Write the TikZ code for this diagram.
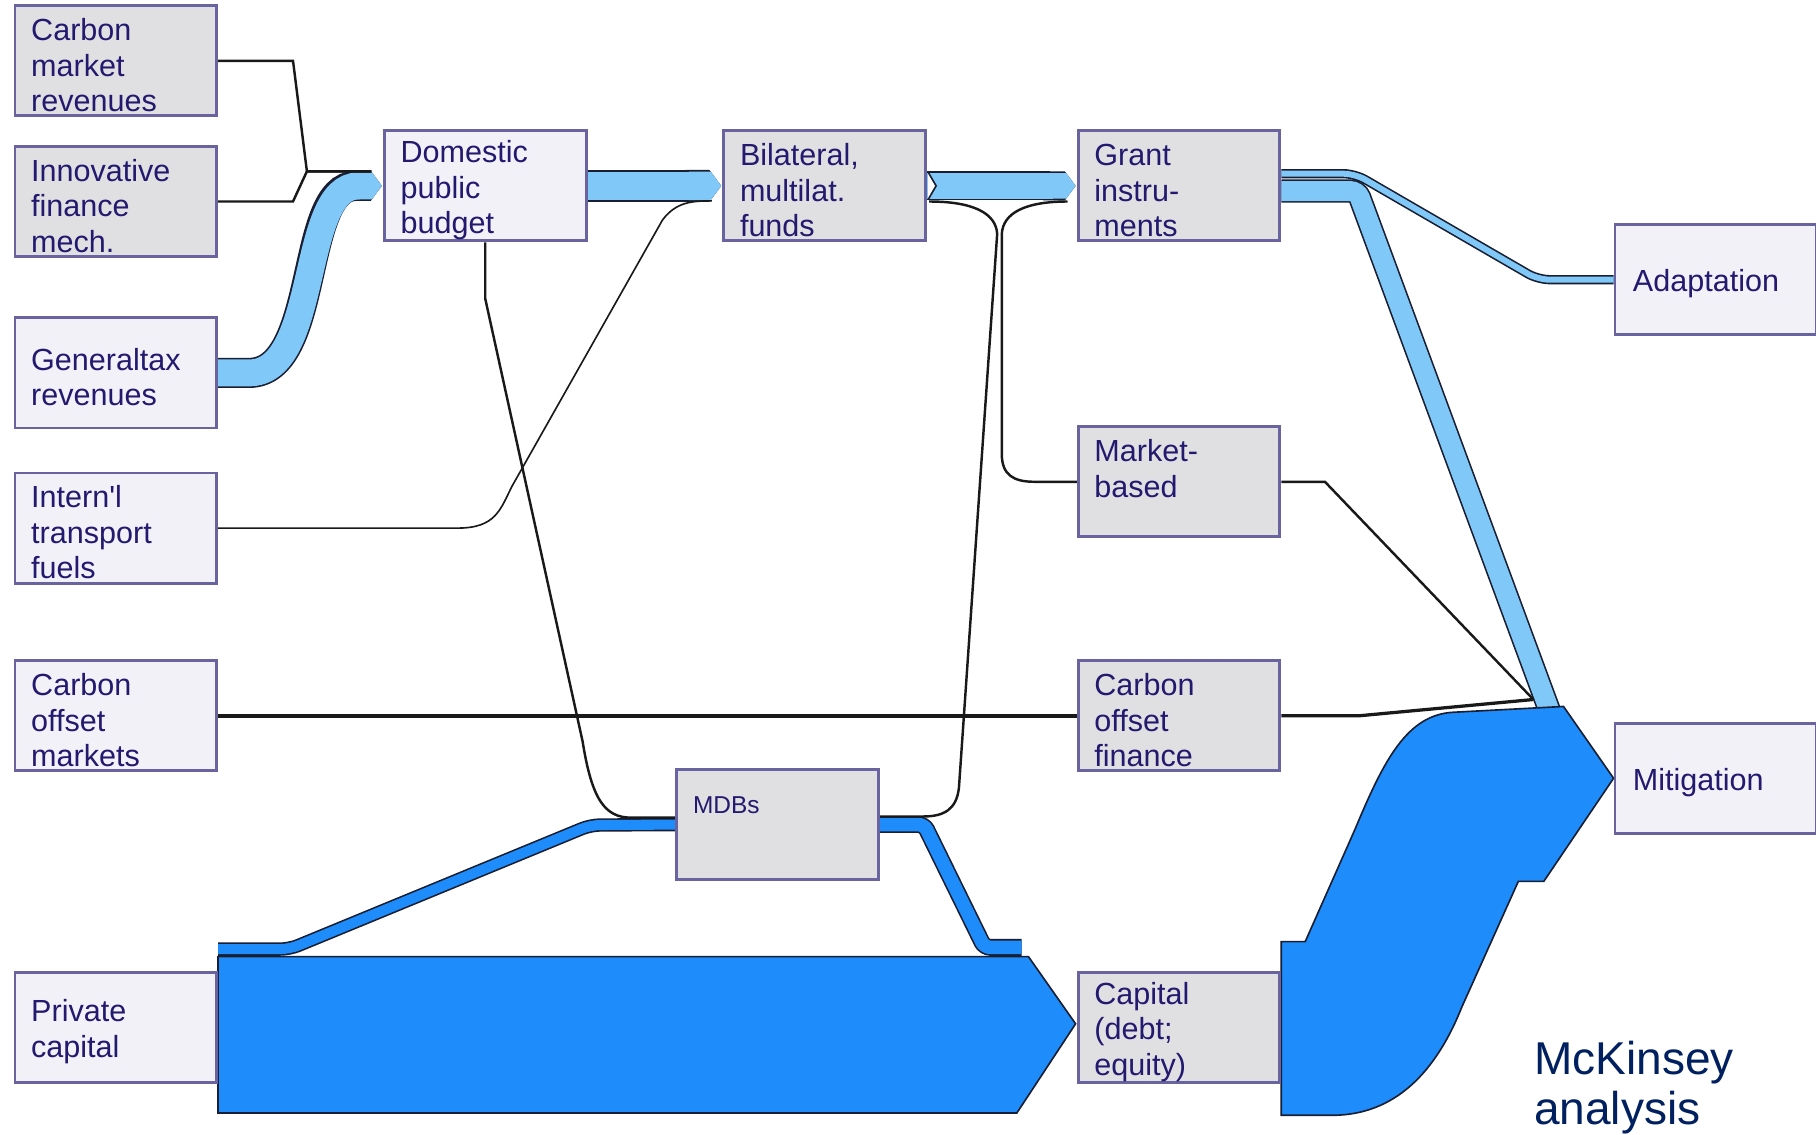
\documentclass[tikz,border=0pt]{standalone}
\usepackage{fontspec}
\setmainfont{Liberation Sans}
\usepackage{tikz}
\usetikzlibrary{arrows.meta, calc, backgrounds}

\definecolor{ink}{RGB}{35,25,110}
\definecolor{boxline}{RGB}{105,100,160}
\definecolor{boxgray}{RGB}{224,224,226}
\definecolor{boxlight}{RGB}{242,241,248}
\definecolor{skyband}{RGB}{128,200,248}
\definecolor{deepband}{RGB}{30,140,250}
\definecolor{edge}{RGB}{25,30,50}
\definecolor{mckblue}{RGB}{0,32,96}

\begin{document}
\begin{tikzpicture}[
            x=0.01cm, y=-0.01cm,
            box/.style={rectangle, draw=boxline, line width=0.7pt, minimum width=1.74cm, minimum height=0.95cm, inner xsep=0.14cm, inner ysep=0pt, text width=1.46cm, align=left, text=ink, font=\fontsize{7.5}{8.7}\selectfont, execute at begin node={\rule{0pt}{7.6pt}}},
            src/.style={box, fill=boxlight},
            hub/.style={box, fill=boxgray},
            wire/.style={draw=black!90, line width=0.6pt},
            band/.style 2 args={draw=#1, line width=#2-0.8pt, preaction={draw=edge, line width=#2}},
            capend/.style={-{Triangle Cap[length=0pt .37]}},
            bulk/.style={fill=deepband, draw=edge, line width=0.4pt}
        ]
            \useasboundingbox (0,0) rectangle (1568,980);

            % --- sources ---
            \node[hub] (cmr) at (100,52.5) {Carbon\\market\\revenues};
            \node[hub] (ifm) at (100,174) {Innovative\\finance\\mech.};
            \node[src] (gtr) at (100,322) {Generaltax\\revenues};
            \node[src] (itf) at (100,456) {Intern\textquotesingle l\\transport\\fuels};
            \node[src] (com) at (100,618) {Carbon\\offset\\markets};
            \node[src] (pc) at (100,887) {Private\\capital};

            % --- channels ---
            \node[src] (dpb) at (419,160.5) {Domestic\\public\\budget};
            \node[hub] (bmf) at (712,160.5) {Bilateral,\\multilat.\\funds};
            \node[hub, font=\fontsize{6}{8.7}\selectfont] (mdb) at (671.5,712) {MDBs\\[4.2pt]\mbox{}};

            % --- instruments ---
            \node[hub] (gi) at (1018,160.5) {Grant\\instru-\\ments};
            \node[hub] (mb) at (1018,416) {Market-\\based\\\mbox{}};
            \node[hub] (cof) at (1018,618) {Carbon\\offset\\finance};
            \node[hub] (cap) at (1018,887) {Capital\\(debt;\\equity)};

            % --- uses ---
            \node[src, text width=1.43cm] (ada) at (1481.5,241.5) {Adaptation};
            \node[src, text width=1.43cm] (mit) at (1481.5,672) {Mitigation};

            \coordinate (merge) at (1324,604);

            \begin{scope}[on background layer]
            \fill[white] (0,0) rectangle (1568,980);

            % light bands
            \draw[band={skyband}{0.26cm}, capend] (gtr.east) -- (215,322) .. controls (277,322) and (258,160.5) .. ($(dpb.west)+(-1,0)$);
            \draw[band={skyband}{0.275cm}, capend] (dpb.east) -- ($(bmf.west)+(-1,0)$);
            \draw[band={skyband}{0.25cm}, capend] (bmf.east) -- ($(gi.west)+(-1,0)$);
            \fill[white] ($(bmf.east)+(1,-12)$) -- ($(bmf.east)+(8,0)$) -- ($(bmf.east)+(1,12)$) -- cycle;
            \draw[edge, line width=0.4pt] ($(bmf.east)+(1,-12)$) -- ($(bmf.east)+(8,0)$) -- ($(bmf.east)+(1,12)$);
            \draw[band={skyband}{0.08cm}, rounded corners=0.1cm] ($(gi.east)+(0,-10.5)$) -- (1170,150) -- (1328,241.5) -- (ada.west);
            \draw[band={skyband}{0.2cm}, rounded corners=0.06cm] ($(gi.east)+(0,4.5)$) -- (1172,165) -- (1338,614);

            % dark bands
            \draw[band={deepband}{0.115cm}, rounded corners=0.08cm] ($(pc.east)+(0,-67.5)$) -- (250,819.5) -- (510,712.4) -- (mdb.west);
            \draw[band={deepband}{0.145cm}, rounded corners=0.05cm] (mdb.east) -- (798,712) -- (850,818) -- (882,818);
            \draw[bulk] ($(pc.east)+(0,-61)$) -- (888,826) -- ($(cap.west)+(-1,-3)$) -- (878,961) -- ($(pc.east)+(0,74)$) -- cycle;
            \draw[bulk] ($(cap.east)+(0,-74)$) -- (1127,813) -- (1170,716) .. controls (1195,656) and (1215,617) .. (1255,615) -- (1350,610) -- (mit.west) -- (1333,761) -- (1311,761) -- (1262,870) .. controls (1240,925) and (1205,963) .. (1150,963) -- ($(cap.east)+(0,76)$) -- cycle;

            % thin lines
            \draw[wire] (cmr.east) -- (253,52.5) -- (265,148) -- ($(dpb.west)+(-10,-12.5)$);
            \draw[wire] (ifm.east) -- (253,174) -- (265,148) -- ($(dpb.west)+(-10,-12.5)$);
            \draw[wire, line width=0.4pt] (itf.east) -- (395,456) .. controls (428,456) and (432,440) .. (442,420) -- (572,190) .. controls (584,174) and (598,173.5) .. ($(bmf.west)+(-9,13)$);
            \draw[wire] (dpb.south) -- (419,258) -- (503,640) .. controls (511,690) and (522,706) .. (545,706) -- ($(mdb.west)+(0,-6)$);
            \draw[wire] ($(bmf.east)+(2,13.5)$) .. controls (840,174) and (860,184) .. (861,202) -- (828,680) .. controls (826,699) and (815,705) .. (797,705) -- ($(mdb.east)+(0,-7)$);
            \draw[wire] ($(gi.west)+(-8,13.5)$) .. controls (885,174) and (866,184) .. (865,202) -- (865,392) .. controls (865,410) and (875,416) .. (893,416) -- (mb.west);
            \draw[wire, line width=0.9pt] (com.east) -- (cof.west);
            \draw[wire] (mb.east) -- (1144,416) -- (merge);
            \draw[wire, line width=0.8pt] (cof.east) -- (1174,618) -- (merge);
            \end{scope}

            \node[anchor=north west, inner sep=0pt, align=left, text=mckblue, font=\fontsize{11.3}{12.4}\selectfont] (note) at (1324,898) {McKinsey\\analysis};
        \end{tikzpicture}
\end{document}
